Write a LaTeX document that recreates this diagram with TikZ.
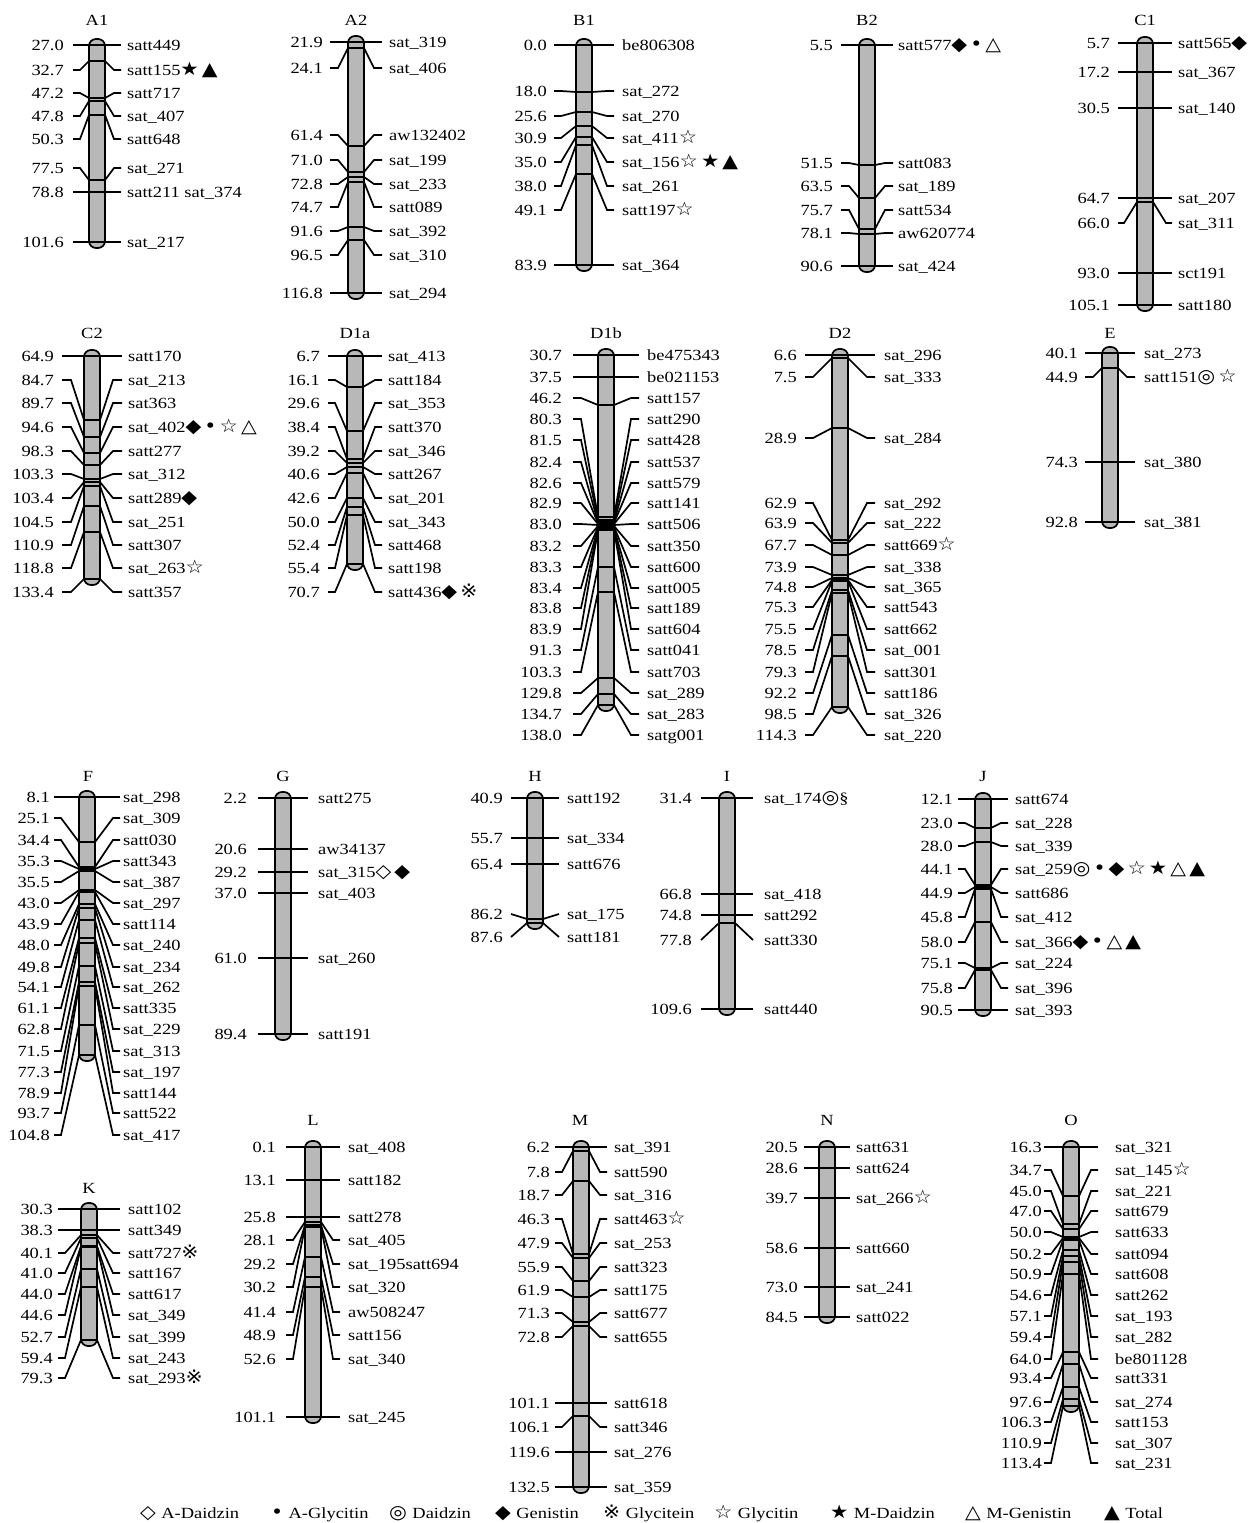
\documentclass[tikz,border=0pt]{standalone}
\usepackage{fontspec}
\setmainfont{Liberation Serif}[FakeStretch=1.19]
\newfontfamily\symfont{DejaVu Sans}[FakeStretch=1.1, Scale=1.2]
\usetikzlibrary{positioning}

\newcommand{\sy}[1]{{\symfont #1}}

% linkage group: name, centre x, stub inner, stub outer, left text, right text, first tick, last tick, markers
\newcommand{\chrom}[9]{%
  \draw[bar] (#2-8,#7-6) rectangle (#2+8,#8+6);
  \foreach \ly/\ty/\lt/\rt [count=\i] in {#9} {
    \node[lab, anchor=east] (#1-p\i) at (#2-#5,\ly) {\lt};
    \node[lab, anchor=west] (#1-m\i) at (#2+#6,\ly) {\rt};
    \coordinate (#1-lo\i) at (#2-#4,\ly);
    \coordinate (#1-li\i) at (#2-#3,\ly);
    \coordinate (#1-bl\i) at (#2-8,\ty);
    \coordinate (#1-br\i) at (#2+8,\ty);
    \coordinate (#1-ri\i) at (#2+#3,\ly);
    \coordinate (#1-ro\i) at (#2+#4,\ly);
    \draw[link] (#1-lo\i) -- (#1-li\i) -- (#1-bl\i) -- (#1-br\i) -- (#1-ri\i) -- (#1-ro\i);
  }%
}

\begin{document}
\begin{tikzpicture}[x=1pt,y=-1pt,
    bar/.style={draw, line width=1.7pt, fill=black!28, rounded corners=7pt},
    link/.style={line width=1.7pt},
    lab/.style={inner sep=0pt, text height=10pt, text depth=0pt, font=\fontsize{15.5}{17}\selectfont}]
  \useasboundingbox (0,0) rectangle (1251,1523);

  % Titles
  \node[lab] (A1-t) at (97,20) {A1};
  \node[lab] (A2-t) at (356,20) {A2};
  \node[lab] (B1-t) at (584,20) {B1};
  \node[lab] (B2-t) at (867,20) {B2};
  \node[lab] (C1-t) at (1145,20) {C1};
  \node[lab] (C2-t) at (92,333) {C2};
  \node[lab] (D1a-t) at (355,333) {D1a};
  \node[lab] (D1b-t) at (606,333) {D1b};
  \node[lab] (D2-t) at (840,333) {D2};
  \node[lab] (E-t) at (1110,333) {E};
  \node[lab] (F-t) at (88,776) {F};
  \node[lab] (G-t) at (283,776) {G};
  \node[lab] (H-t) at (535,776) {H};
  \node[lab] (I-t) at (727,776) {I};
  \node[lab] (J-t) at (983,776) {J};
  \node[lab] (K-t) at (89,1188) {K};
  \node[lab] (L-t) at (313,1120) {L};
  \node[lab] (M-t) at (580,1120) {M};
  \node[lab] (N-t) at (827,1120) {N};
  \node[lab] (O-t) at (1071,1120) {O};

  % Linkage groups
  \chrom{A1}{97}{17}{24}{33}{30}{45}{242}{45/45/27.0/satt449, 70/61/32.7/satt155\sy{★\,▲},
    93/98/47.2/satt717, 116/101/47.8/sat\_407, 139/115/50.3/satt648, 168/180/77.5/sat\_271,
    192/192/78.8/satt211 sat\_374, 242/242/101.6/sat\_217}
  \chrom{A2}{356}{18}{26}{33}{33}{42}{293}{42/42/21.9/sat\_319, 68/48/24.1/sat\_406,
    135/146/61.4/aw132402, 160/172/71.0/sat\_199, 184/177/72.8/sat\_233, 207/182/74.7/satt089,
    231/227/91.6/sat\_392, 255/240/96.5/sat\_310, 293/293/116.8/sat\_294}
  \chrom{B1}{584}{23}{30}{37}{38}{45}{265}{45/45/0.0/be806308, 91/92/18.0/sat\_272,
    116/112/25.6/sat\_270, 138/126/30.9/sat\_411\sy{☆}, 162/137/35.0/sat\_156\sy{☆\,★\,▲},
    186/145/38.0/sat\_261, 210/174/49.1/satt197\sy{☆}, 265/265/83.9/sat\_364}
  \chrom{B2}{867}{18}{26}{34}{31}{45}{266}{45/45/5.5/satt577\sy{◆\,•\,△}, 163/165/51.5/satt083,
    186/198/63.5/sat\_189, 210/229/75.7/satt534, 233/234/78.1/aw620774, 266/266/90.6/sat\_424}
  \chrom{C1}{1145}{21}{27}{35}{33}{43}{305}{43/43/5.7/satt565\sy{◆}, 72/72/17.2/sat\_367,
    108/108/30.5/sat\_140, 198/198/64.7/sat\_207, 223/202/66.0/sat\_311, 273/273/93.0/sct191,
    305/305/105.1/satt180}
  \chrom{C2}{92}{21}{30}{38}{36}{356}{579}{356/356/64.9/satt170, 380/420/84.7/sat\_213,
    403/437/89.7/sat363, 427/453/94.6/sat\_402\sy{◆\,•\,☆\,△}, 451/465/98.3/satt277,
    474/479/103.3/sat\_312, 498/482/103.4/satt289\sy{◆}, 522/486/104.5/sat\_251,
    545/506/110.9/satt307, 568/532/118.8/sat\_263\sy{☆}, 592/579/133.4/satt357}
  \chrom{D1a}{355}{20}{27}{35}{33}{356}{564}{356/356/6.7/sat\_413, 380/387/16.1/satt184,
    403/431/29.6/sat\_353, 427/459/38.4/satt370, 451/463/39.2/sat\_346, 474/467/40.6/satt267,
    498/473/42.6/sat\_201, 522/498/50.0/sat\_343, 545/507/52.4/satt468, 568/515/55.4/satt198,
    592/564/70.7/satt436\sy{◆\,※}}
  \chrom{D1b}{606}{25}{33}{44}{41}{355}{705}{355/355/30.7/be475343, 377/377/37.5/be021153,
    398/405/46.2/satt157, 419/517/80.3/satt290, 440/520/81.5/satt428, 462/522/82.4/satt537,
    483/523/82.6/satt579, 503/524/82.9/satt141, 524/525/83.0/satt506, 546/526/83.2/satt350,
    567/527/83.3/satt600, 588/528/83.4/satt005, 608/529/83.8/satt189, 629/530/83.9/satt604,
    650/567/91.3/satt041, 672/592/103.3/satt703, 693/678/129.8/sat\_289, 714/694/134.7/sat\_283,
    735/705/138.0/satg001}
  \chrom{D2}{840}{27}{35}{43}{44}{355}{707}{355/355/6.6/sat\_296, 377/358/7.5/sat\_333,
    438/428/28.9/sat\_284, 503/540/62.9/sat\_292, 523/543/63.9/sat\_222, 545/555/67.7/satt669\sy{☆},
    567/575/73.9/sat\_338, 587/578/74.8/sat\_365, 607/580/75.3/satt543, 629/581/75.5/satt662,
    650/590/78.5/sat\_001, 672/593/79.3/satt301, 693/635/92.2/satt186, 714/656/98.5/sat\_326,
    735/707/114.3/sat\_220}
  \chrom{E}{1110}{17}{25}{32}{34}{353}{522}{353/353/40.1/sat\_273, 377/368/44.9/satt151\sy{◎\,☆},
    462/462/74.3/sat\_380, 522/522/92.8/sat\_381}
  \chrom{F}{87}{26}{33}{37}{36}{797}{1055}{797/797/8.1/sat\_298, 818/842/25.1/sat\_309,
    840/867/34.4/satt030, 861/869/35.3/satt343, 882/871/35.5/sat\_387, 903/890/43.0/sat\_297,
    924/892/43.9/satt114, 945/904/48.0/sat\_240, 967/908/49.8/sat\_234, 987/920/54.1/sat\_262,
    1008/938/61.1/satt335, 1029/943/62.8/sat\_229, 1051/966/71.5/sat\_313, 1072/982/77.3/sat\_197,
    1093/986/78.9/satt144, 1113/1025/93.7/satt522, 1135/1055/104.8/sat\_417}
  \chrom{G}{283}{25}{25}{36}{35}{798}{1034}{798/798/2.2/satt275, 849/849/20.6/aw34137,
    872/872/29.2/sat\_315\sy{◇\,◆}, 893/893/37.0/sat\_403, 958/958/61.0/sat\_260,
    1034/1034/89.4/satt191}
  \chrom{H}{535}{24}{24}{32}{32}{798}{923}{798/798/40.9/satt192, 838/838/55.7/sat\_334,
    864/864/65.4/satt676, 914/919/86.2/sat\_175, 937/923/87.6/satt181}
  \chrom{I}{727}{26}{26}{35}{37}{798}{1009}{798/798/31.4/sat\_174\sy{◎}§, 894/894/66.8/sat\_418,
    915/915/74.8/satt292, 940/923/77.8/satt330, 1009/1009/109.6/satt440}
  \chrom{J}{983}{18}{25}{30}{32}{799}{1010}{799/799/12.1/satt674, 823/828/23.0/sat\_228,
    846/842/28.0/sat\_339, 869/885/44.1/sat\_259\sy{◎\,•\,◆\,☆\,★\,△\,▲}, 893/887/44.9/satt686,
    917/889/45.8/sat\_412, 942/922/58.0/sat\_366\sy{◆\,•\,△\,▲}, 963/968/75.1/sat\_224,
    988/970/75.8/sat\_396, 1010/1010/90.5/sat\_393}
  \chrom{K}{89}{24}{31}{36}{39}{1209}{1340}{1209/1209/30.3/satt102, 1230/1230/38.3/satt349,
    1253/1235/40.1/satt727\sy{※}, 1273/1238/41.0/satt167, 1294/1246/44.0/satt617,
    1315/1247/44.6/sat\_349, 1337/1269/52.7/sat\_399, 1358/1287/59.4/sat\_243,
    1378/1340/79.3/sat\_293\sy{※}}
  \chrom{L}{313}{20}{27}{37}{35}{1147}{1417}{1147/1147/0.1/sat\_408, 1180/1180/13.1/satt182,
    1217/1217/25.8/satt278, 1240/1222/28.1/sat\_405, 1264/1225/29.2/sat\_195satt694,
    1287/1227/30.2/sat\_320, 1312/1257/41.4/aw508247, 1335/1277/48.9/satt156,
    1359/1287/52.6/sat\_340, 1417/1417/101.1/sat\_245}
  \chrom{M}{581}{19}{26}{31}{33}{1147}{1487}{1147/1147/6.2/sat\_391, 1172/1151/7.8/satt590,
    1195/1181/18.7/sat\_316, 1219/1254/46.3/satt463\sy{☆}, 1243/1258/47.9/sat\_253,
    1267/1281/55.9/satt323, 1290/1297/61.9/satt175, 1313/1322/71.3/satt677, 1337/1326/72.8/satt655,
    1403/1403/101.1/satt618, 1427/1416/106.1/satt346, 1452/1452/119.6/sat\_276,
    1487/1487/132.5/sat\_359}
  \chrom{N}{827}{23}{23}{29}{29}{1147}{1317}{1147/1147/20.5/satt631, 1168/1168/28.6/satt624,
    1198/1198/39.7/sat\_266\sy{☆}, 1248/1248/58.6/satt660, 1287/1287/73.0/sat\_241,
    1317/1317/84.5/satt022}
  \chrom{O}{1071}{20}{27}{29}{44}{1147}{1406}{1147/1147/16.3/sat\_321, 1170/1196/34.7/sat\_145\sy{☆},
    1191/1224/45.0/sat\_221, 1211/1229/47.0/satt679, 1232/1237/50.0/satt633, 1254/1238/50.2/satt094,
    1274/1240/50.9/satt608, 1295/1250/54.6/satt262, 1316/1256/57.1/sat\_193, 1337/1262/59.4/sat\_282,
    1359/1274/64.0/be801128, 1378/1352/93.4/satt331, 1402/1364/97.6/sat\_274,
    1422/1387/106.3/satt153, 1443/1399/110.9/sat\_307, 1463/1406/113.4/sat\_231}

  % Legend
  \foreach \lx/\sm/\tx [count=\i] in {140/◇/A-Daidzin, 271/•/A-Glycitin, 389/◎/Daidzin,
      495/◆/Genistin, 603/※/Glycitein, 714/☆/Glycitin, 830/★/M-Daidzin, 965/△/M-Genistin,
      1104/▲/Total} {
    \node[lab, anchor=west] (key\i) at (\lx,1513) {\sy{\sm}};
    \node[lab, right=5pt of key\i] (keytext\i) {\tx};
  }
\end{tikzpicture}
\end{document}
